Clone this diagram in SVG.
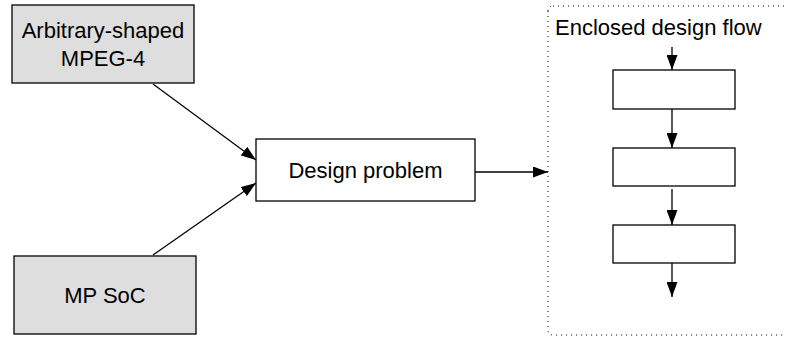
<svg xmlns="http://www.w3.org/2000/svg" width="786" height="337" viewBox="0 0 786 337">
<style>
text{font-family:"Liberation Sans",Arial,sans-serif;font-size:22px;fill:#000}
.g{fill:#dedede;stroke:#000;stroke-width:1.3}
.w{fill:#fff;stroke:#000;stroke-width:1.3}
.c{stroke:#000;stroke-width:1.3;fill:none;marker-end:url(#ah)}
</style>
<defs>
<marker id="ah" viewBox="0 0 15 11" refX="15" refY="5.5" markerWidth="15" markerHeight="11" markerUnits="userSpaceOnUse" orient="auto">
<path d="M0,0 L15,5.5 L0,11 Z" fill="#000"/>
</marker>
</defs>
<g id="flow-container">
<path d="M553,6 H790 M548,11 V330 Q548,335 553,335 H790 M548,11 Q548,6 553,6" fill="none" stroke="#000" stroke-width="1" stroke-dasharray="1,4"/>
<text x="555" y="35">Enclosed design flow</text>
</g>
<g id="mpeg4">
<rect class="g" x="12" y="5" width="182" height="78"/>
<text x="103" y="38" text-anchor="middle">Arbitrary-shaped</text>
<text x="103" y="66" text-anchor="middle">MPEG-4</text>
</g>
<g id="mpsoc">
<rect class="g" x="14" y="256" width="182" height="78"/>
<text x="105" y="303" text-anchor="middle">MP SoC</text>
</g>
<g id="design-problem">
<rect class="w" x="256" y="139" width="219" height="62"/>
<text x="365.5" y="178" text-anchor="middle">Design problem</text>
</g>
<g id="step1"><rect class="w" x="613" y="70" width="122" height="39"/></g>
<g id="step2"><rect class="w" x="613" y="148" width="122" height="38"/></g>
<g id="step3"><rect class="w" x="613" y="225" width="122" height="38"/></g>
<g id="connectors">
<line class="c" x1="153" y1="84" x2="256" y2="160"/>
<line class="c" x1="153" y1="255" x2="256" y2="183"/>
<line class="c" x1="475" y1="172" x2="548" y2="172"/>
<line class="c" x1="672" y1="47" x2="672" y2="70"/>
<line class="c" x1="672" y1="109" x2="672" y2="148"/>
<line class="c" x1="672" y1="189" x2="672" y2="225"/>
<line class="c" x1="672" y1="263" x2="672" y2="297"/>
</g>
</svg>
